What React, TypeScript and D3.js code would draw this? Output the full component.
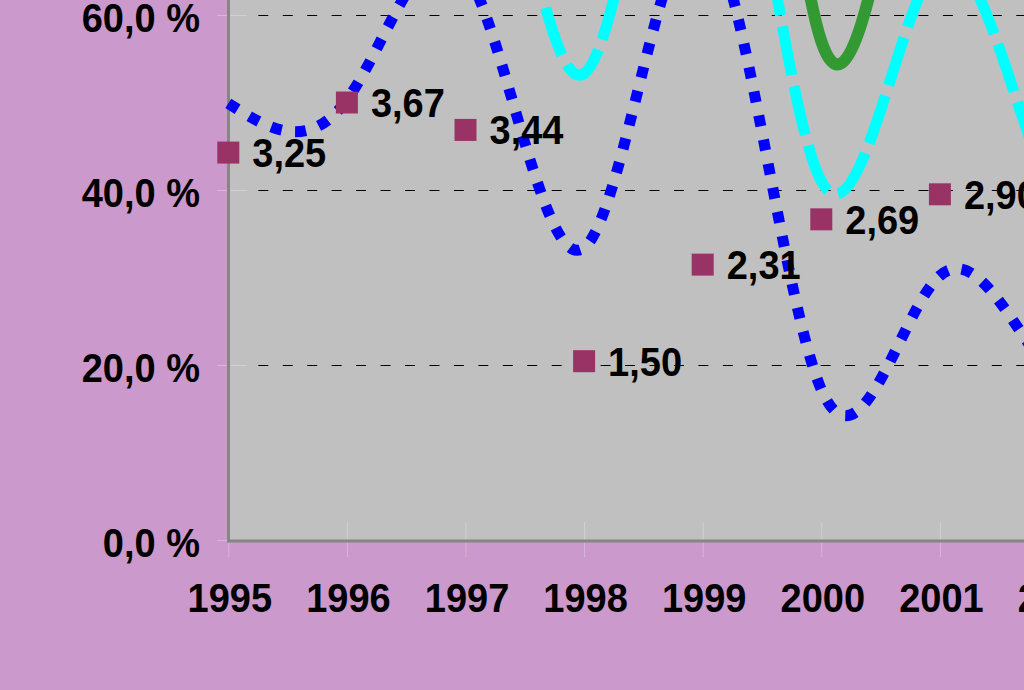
import React from "react";
import * as d3 from "d3";

// ---- data ----
const years = [1995, 1996, 1997, 1998, 1999, 2000, 2001, 2002, 2003];
const blueValues = [49.9, 50.3, 65, 33.4, 70, 17.2, 30.2, 18, 18];
const cyanValues = [95, 95, 100, 53.3, 98, 41, 66, 38, 45];
const greenValues = [100, 100, 100, 100, 150, 57, 100, 100, 100];
const markerYears = [1995, 1996, 1997, 1998, 1999, 2000, 2001];
const markerValues = [3.25, 3.67, 3.44, 1.5, 2.31, 2.69, 2.9];
const yTicks = [0, 20, 40, 60];

const W = 1024;
const H = 690;
const FONT = "'Liberation Sans', Arial, Helvetica, sans-serif";

const locale = d3.formatLocale({
  decimal: ",",
  thousands: ".",
  grouping: [3],
  currency: ["", ""],
});
const fmtPct = locale.format(".1f");
const fmtVal = locale.format(".2f");

export default function App() {
  const x = d3
    .scalePoint<number>()
    .domain(years)
    .range([228.3, 228.3 + 118.6 * (years.length - 1)]);
  const y = d3.scaleLinear().domain([0, 100]).range([540, -335]);
  const y2 = d3.scaleLinear().domain([0, 7.34]).range([540, -335]);

  const line = d3
    .line<number>()
    .x((_, i) => x(years[i]) as number)
    .y((d) => y(d))
    .curve(d3.curveNatural);

  const plotLeft = 229;
  const plotRight = 1300;
  const plotTop = y(100);
  const plotBottom = y(0);
  const sx = 0.95;

  return (
    <svg
      width={W}
      height={H}
      viewBox={`0 0 ${W} ${H}`}
      style={{ position: "absolute", left: 0, top: 0, display: "block" }}
    >
      <rect x={0} y={0} width={W} height={H} fill="#CC99CC" />
      <rect
        x={plotLeft}
        y={plotTop}
        width={plotRight - plotLeft}
        height={plotBottom - plotTop}
        fill="#C0C0C0"
      />
      {/* gridlines */}
      {yTicks
        .filter((t) => t > 0)
        .map((t) => (
          <line
            key={"g" + t}
            x1={258.3}
            x2={plotRight}
            y1={y(t) + 0.5}
            y2={y(t) + 0.5}
            stroke="#000"
            strokeWidth={1}
            strokeDasharray="10,14.45"
          />
        ))}
      {/* tick marks */}
      {yTicks.map((t) => (
        <line
          key={"yt" + t}
          x1={217}
          x2={247}
          y1={y(t) + 0.5}
          y2={y(t) + 0.5}
          stroke="#EEEEEE"
          strokeOpacity={0.35}
          strokeWidth={1}
        />
      ))}
      {years.map((yr) => (
        <line
          key={"xt" + yr}
          x1={(x(yr) as number) + 0.5}
          x2={(x(yr) as number) + 0.5}
          y1={522}
          y2={557}
          stroke="#EEEEEE"
          strokeOpacity={0.35}
          strokeWidth={1}
        />
      ))}
      {/* axes */}
      <line x1={228.5} x2={228.5} y1={plotTop} y2={542.5} stroke="#868686" strokeWidth={3} />
      <line x1={227} x2={plotRight} y1={541} y2={541} stroke="#868686" strokeWidth={3} />

      {/* series lines */}
      <path
        d={line(greenValues) || ""}
        fill="none"
        stroke="#339933"
        strokeWidth={12}
        strokeLinejoin="round"
      />
      <path
        d={line(cyanValues) || ""}
        fill="none"
        stroke="#00FFFF"
        strokeWidth={11}
        strokeDasharray="50,11"
      />
      <path
        d={line(blueValues) || ""}
        fill="none"
        stroke="#0000FF"
        strokeWidth={11}
        strokeDasharray="11,13.5"
      />

      {/* markers */}
      {markerValues.map((v, i) => (
        <rect
          key={"m" + i}
          x={(x(markerYears[i]) as number) - 11}
          y={y2(v) - 11}
          width={22}
          height={22}
          fill="#993366"
        />
      ))}
      {/* marker labels */}
      {markerValues.map((v, i) => (
        <text
          key={"ml" + i}
          transform={`translate(${(x(markerYears[i]) as number) + 24},${y2(v) + 14.5}) scale(${sx},1)`}
          fontFamily={FONT}
          fontWeight="bold"
          fontSize={40}
          fill="#000"
        >
          {fmtVal(v)}
        </text>
      ))}

      {/* y axis labels */}
      {yTicks.map((t) => (
        <text
          key={"yl" + t}
          transform={`translate(200,${y(t) + 16.7}) scale(${sx},1)`}
          textAnchor="end"
          fontFamily={FONT}
          fontWeight="bold"
          fontSize={40}
          fill="#000"
        >
          {fmtPct(t) + " %"}
        </text>
      ))}
      {/* x axis labels */}
      {years.map((yr) => (
        <text
          key={"xl" + yr}
          transform={`translate(${(x(yr) as number) + 1.5},611.7) scale(${sx},1)`}
          textAnchor="middle"
          fontFamily={FONT}
          fontWeight="bold"
          fontSize={40}
          fill="#000"
        >
          {String(yr)}
        </text>
      ))}
    </svg>
  );
}
